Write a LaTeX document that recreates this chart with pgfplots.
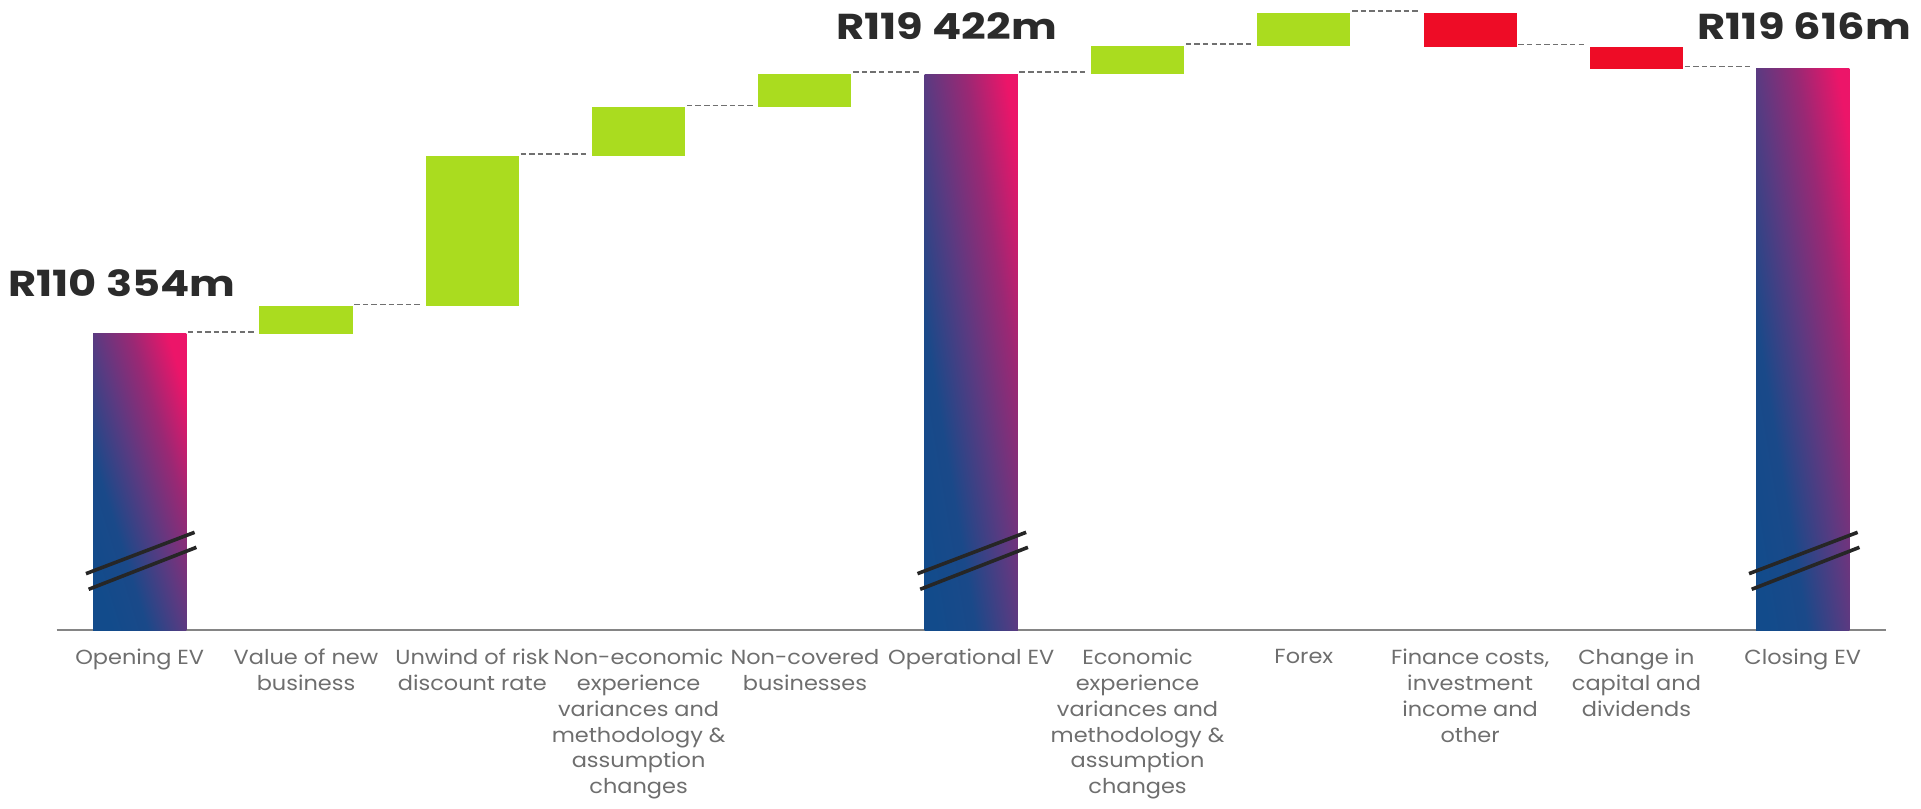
\documentclass[border=0pt]{standalone}
\usepackage{fontspec}
\setmainfont{Poppins}
\newfontfamily\labelfont{Poppins}[FakeStretch=1.1]
\newfontfamily\totalfont{Poppins}[FakeStretch=1.2]
\usepackage{pgfplots}
\pgfplotsset{compat=1.18}

\definecolor{evblue}{HTML}{124B8B}
\definecolor{evblue2}{HTML}{1A4989}
\definecolor{evpurple}{HTML}{5B3A81}
\definecolor{evmagenta}{HTML}{9A2874}
\definecolor{evpink}{HTML}{EC1569}
\definecolor{upgreen}{HTML}{AADC1F}
\definecolor{downred}{HTML}{EE0C26}
\definecolor{labelgray}{HTML}{6E6E6E}
\definecolor{labeldark}{HTML}{2B2B2B}
\definecolor{axisgray}{HTML}{858585}
\definecolor{linkgray}{HTML}{707070}
\definecolor{breakdark}{HTML}{262626}

% blue-to-pink fill of the embedded value columns, running from the
% lower left corner to the upper right corner of each column
\pgfdeclarehorizontalshading{evshade}{100bp}{%
  color(0bp)=(evblue); color(25bp)=(evblue); color(37bp)=(evblue2);
  color(50bp)=(evpurple); color(62.5bp)=(evmagenta); color(75bp)=(evpink);
  color(100bp)=(evpink)}

\tikzset{
  total/.style={draw=none, shading=evshade, shading angle=#1},
  up/.style={draw=none, fill=upgreen},
  down/.style={draw=none, fill=downred},
  link/.style={draw=linkgray, line width=0.85pt, dash pattern=on 2.75pt off 1.55pt, yshift=1pt},
  brk/.style={draw=breakdark, line width=1.8pt},
  total label/.style={font=\totalfont\bfseries\fontsize{18}{21}\selectfont, text=labeldark, anchor=base},
}

\begin{document}
\begin{tikzpicture}
\useasboundingbox (-28.275pt,-88.85pt) rectangle (932.2pt,315.15pt);
\begin{axis}[
  at={(0pt,0pt)}, anchor=south west,
  scale only axis, width=914.65pt, height=315pt,
  xmin=-0.5, xmax=10.5, ymin=100000, ymax=122000,
  axis x line=bottom, axis y line=none,
  x axis line style={-, draw=axisgray, line width=1.1pt},
  xtick={0,...,10}, major tick length=0pt, ytick=\empty,
  xticklabels={
    Opening EV,
    {Value of new\\business},
    {Unwind of risk\\discount rate},
    {Non-economic\\experience\\variances and\\methodology \&\\assumption\\changes},
    {Non-covered\\businesses},
    Operational EV,
    {Economic\\experience\\variances and\\methodology \&\\assumption\\changes},
    Forex,
    {Finance costs,\\investment\\income and\\other},
    {Change in\\capital and\\dividends},
    Closing EV},
  xticklabel style={align=center, text=labelgray, anchor=north, yshift=-6pt,
    font=\labelfont\fontsize{10.2}{12.85}\selectfont},
  clip=false,
]
% embedded value totals (R million)
\addplot[total=17.4] coordinates {(-0.28,100000) (0.28,100000) (0.28,110354) (-0.28,110354)} --cycle;
\addplot[total=9.5] coordinates {(4.72,100000) (5.28,100000) (5.28,119422) (4.72,119422)} --cycle;
\addplot[total=9.4] coordinates {(9.72,100000) (10.28,100000) (10.28,119616) (9.72,119616)} --cycle;

% increases
\addplot[up] coordinates {(0.72,110354) (1.28,110354) (1.28,111311) (0.72,111311)} --cycle;
\addplot[up] coordinates {(1.72,111311) (2.28,111311) (2.28,116570) (1.72,116570)} --cycle;
\addplot[up] coordinates {(2.72,116570) (3.28,116570) (3.28,118260) (2.72,118260)} --cycle;
\addplot[up] coordinates {(3.72,118260) (4.28,118260) (4.28,119422) (3.72,119422)} --cycle;
\addplot[up] coordinates {(5.72,119422) (6.28,119422) (6.28,120412) (5.72,120412)} --cycle;
\addplot[up] coordinates {(6.72,120412) (7.28,120412) (7.28,121547) (6.72,121547)} --cycle;

% decreases
\addplot[down] coordinates {(7.72,121547) (8.28,121547) (8.28,120382) (7.72,120382)} --cycle;
\addplot[down] coordinates {(8.72,120382) (9.28,120382) (9.28,119616) (8.72,119616)} --cycle;

% connectors between consecutive levels
\addplot[link] coordinates {(0.29,110354) (0.70,110354)};
\addplot[link] coordinates {(1.29,111311) (1.70,111311)};
\addplot[link] coordinates {(2.29,116570) (2.70,116570)};
\addplot[link] coordinates {(3.29,118260) (3.70,118260)};
\addplot[link] coordinates {(4.29,119422) (4.70,119422)};
\addplot[link] coordinates {(5.29,119422) (5.70,119422)};
\addplot[link] coordinates {(6.29,120412) (6.70,120412)};
\addplot[link] coordinates {(7.29,121547) (7.70,121547)};
\addplot[link] coordinates {(8.29,120382) (8.70,120382)};
\addplot[link] coordinates {(9.29,119616) (9.70,119616)};

% axis-break marks on the total columns
\addplot[brk] coordinates {(-0.323,101978) (0.330,103422)};
\addplot[brk] coordinates {(-0.307,101432) (0.341,102898)};
\addplot[brk] coordinates {(4.677,101978) (5.330,103422)};
\addplot[brk] coordinates {(4.693,101432) (5.341,102898)};
\addplot[brk] coordinates {(9.677,101978) (10.330,103422)};
\addplot[brk] coordinates {(9.693,101432) (10.341,102898)};

\node[total label] at (axis cs:-0.107,111674) {R110 354m};
\node[total label] at (axis cs:4.852,120638) {R119 422m};
\node[total label] at (axis cs:10.008,120638) {R119 616m};
\end{axis}
\end{tikzpicture}
\end{document}
